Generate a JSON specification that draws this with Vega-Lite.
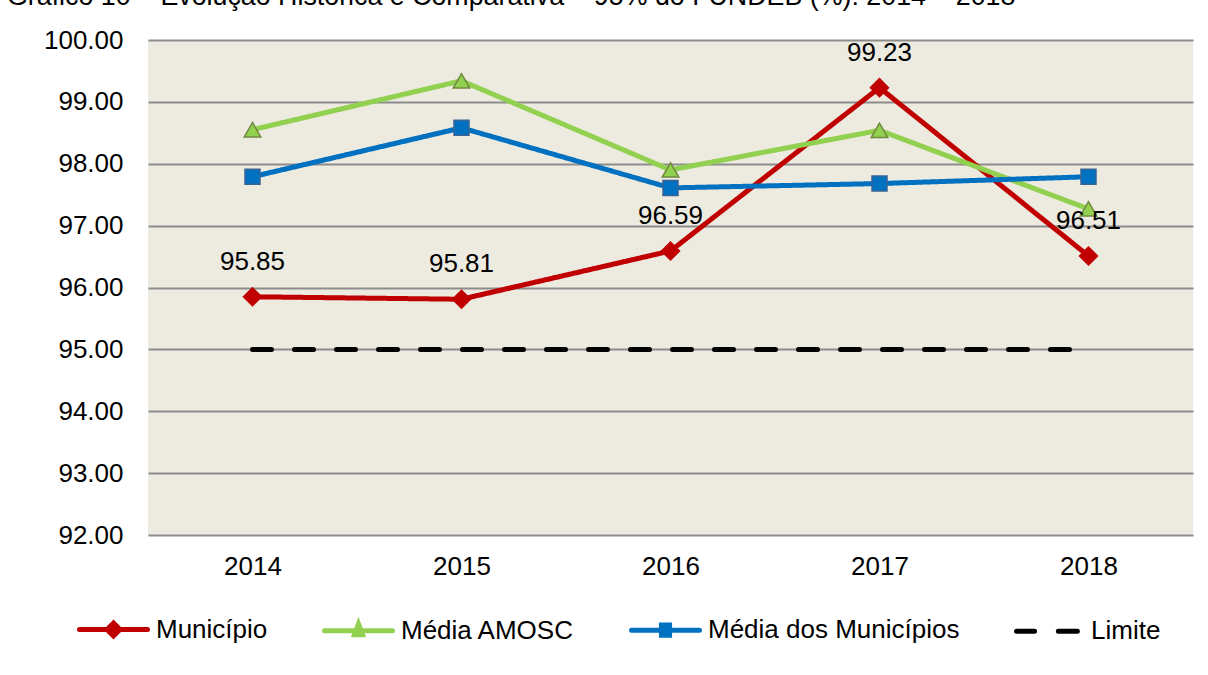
{
  "$schema": "https://vega.github.io/schema/vega-lite/v6.json",
  "width": 1045,
  "height": 495,
  "autosize": {"type": "none"},
  "padding": {"left": 148, "top": 40, "right": 15, "bottom": 140},
  "background": "white",
  "title": {
    "text": "Gráfico 10 – Evolução Histórica e Comparativa – 95% do FUNDEB (%): 2014 – 2018",
    "anchor": "start",
    "frame": "group",
    "dx": -141,
    "dy": 15,
    "offset": 10,
    "baseline": "alphabetic",
    "fontSize": 26.8,
    "font": "Liberation Sans",
    "fontWeight": "normal",
    "color": "black"
  },
  "config": {
    "view": {"fill": "#EDEAE0", "stroke": null},
    "font": "Liberation Sans"
  },
  "data": {
    "values": [
      {"ano": "2014", "serie": "Município", "valor": 95.85},
      {"ano": "2015", "serie": "Município", "valor": 95.81},
      {"ano": "2016", "serie": "Município", "valor": 96.59},
      {"ano": "2017", "serie": "Município", "valor": 99.23},
      {"ano": "2018", "serie": "Município", "valor": 96.51},
      {"ano": "2014", "serie": "Média AMOSC", "valor": 98.55},
      {"ano": "2015", "serie": "Média AMOSC", "valor": 99.34},
      {"ano": "2016", "serie": "Média AMOSC", "valor": 97.9},
      {"ano": "2017", "serie": "Média AMOSC", "valor": 98.54},
      {"ano": "2018", "serie": "Média AMOSC", "valor": 97.27},
      {"ano": "2014", "serie": "Média dos Municípios", "valor": 97.79},
      {"ano": "2015", "serie": "Média dos Municípios", "valor": 98.58},
      {"ano": "2016", "serie": "Média dos Municípios", "valor": 97.61},
      {"ano": "2017", "serie": "Média dos Municípios", "valor": 97.68},
      {"ano": "2018", "serie": "Média dos Municípios", "valor": 97.79},
      {"ano": "2014", "serie": "Limite", "valor": 95},
      {"ano": "2015", "serie": "Limite", "valor": 95},
      {"ano": "2016", "serie": "Limite", "valor": 95},
      {"ano": "2017", "serie": "Limite", "valor": 95},
      {"ano": "2018", "serie": "Limite", "valor": 95}
    ]
  },
  "encoding": {
    "x": {
      "field": "ano",
      "type": "ordinal",
      "sort": null,
      "scale": {"type": "point", "padding": 0.5},
      "axis": {
        "title": null,
        "labelAngle": 0,
        "labelFontSize": 26,
        "labelColor": "black",
        "labelFont": "Liberation Sans",
        "ticks": false,
        "domain": false,
        "grid": false,
        "labelPadding": 18
      }
    },
    "y": {
      "field": "valor",
      "type": "quantitative",
      "scale": {"domain": [92, 100], "zero": false, "nice": false},
      "axis": {
        "title": null,
        "values": [92, 93, 94, 95, 96, 97, 98, 99, 100],
        "format": ".2f",
        "labelFontSize": 26,
        "labelColor": "black",
        "labelFont": "Liberation Sans",
        "labelPadding": 25,
        "ticks": false,
        "domain": false,
        "gridColor": "#8C8C8C",
        "gridWidth": 2
      }
    }
  },
  "layer": [
    {
      "mark": {"type": "line", "strokeCap": "round", "strokeJoin": "round"},
      "encoding": {
        "color": {
          "field": "serie",
          "type": "nominal",
          "sort": null,
          "scale": {
            "domain": ["Município", "Média AMOSC", "Média dos Municípios", "Limite"],
            "range": ["#C00000", "#92D050", "#0070C0", "#000000"]
          },
          "legend": {
            "orient": "none",
            "legendX": -71,
            "legendY": 553,
            "direction": "horizontal",
            "title": null,
            "labelFontSize": 26,
            "labelColor": "black",
            "labelFont": "Liberation Sans",
            "labelLimit": 500,
            "symbolSize": 4624,
            "symbolStrokeWidth": 5,
            "labelOffset": 6,
            "columnPadding": 46,
            "padding": 0,
            "encode": {
              "symbols": {
                "update": {
                  "shape": {"signal": "datum.value === 'Município' ? 'M-1,0H1M0,-0.19L0.19,0L0,0.19L-0.19,0Z' : datum.value === 'Média AMOSC' ? 'M-1,0H1M0,-0.2L0.12,0.12L-0.12,0.12Z' : datum.value === 'Média dos Municípios' ? 'M-1,0H1M-0.12,-0.15H0.12V0.15H-0.12Z' : 'M-0.94,0H-0.41M0.29,0H0.85'"},
                  "fill": {"signal": "datum.value === 'Município' ? '#C00000' : datum.value === 'Média AMOSC' ? '#92D050' : datum.value === 'Média dos Municípios' ? '#0070C0' : '#000000'"},
                  "stroke": {"signal": "datum.value === 'Município' ? '#C00000' : datum.value === 'Média AMOSC' ? '#92D050' : datum.value === 'Média dos Municípios' ? '#0070C0' : '#000000'"},
                  "strokeDash": {"value": [1, 0]},
                  "strokeCap": {"value": "round"},
                  "opacity": {"value": 1}
                }
              }
            }
          }
        },
        "strokeDash": {
          "field": "serie",
          "type": "nominal",
          "scale": {
            "domain": ["Município", "Média AMOSC", "Média dos Municípios", "Limite"],
            "range": [[1, 0], [1, 0], [1, 0], [19, 23]]
          },
          "legend": null
        },
        "strokeWidth": {
          "field": "serie",
          "type": "nominal",
          "scale": {
            "domain": ["Município", "Média AMOSC", "Média dos Municípios", "Limite"],
            "range": [5, 5, 5, 4]
          },
          "legend": null
        }
      }
    },
    {
      "transform": [{"filter": "datum.serie !== 'Limite'"}],
      "mark": {"type": "point", "filled": true, "opacity": 1, "strokeWidth": 1.5},
      "encoding": {
        "shape": {
          "field": "serie",
          "type": "nominal",
          "scale": {
            "domain": ["Município", "Média AMOSC", "Média dos Municípios"],
            "range": ["diamond", "triangle-up", "square"]
          },
          "legend": null
        },
        "size": {
          "field": "serie",
          "type": "nominal",
          "scale": {
            "domain": ["Município", "Média AMOSC", "Média dos Municípios"],
            "range": [324, 225, 180]
          },
          "legend": null
        },
        "fill": {
          "field": "serie",
          "type": "nominal",
          "scale": {
            "domain": ["Município", "Média AMOSC", "Média dos Municípios"],
            "range": ["#C00000", "#92D050", "#0070C0"]
          },
          "legend": null
        },
        "stroke": {
          "field": "serie",
          "type": "nominal",
          "scale": {
            "domain": ["Município", "Média AMOSC", "Média dos Municípios"],
            "range": ["#C00000", "#71893F", "#3A6496"]
          },
          "legend": null
        }
      }
    },
    {
      "transform": [{"filter": "datum.serie === 'Município'"}],
      "mark": {"type": "text", "dy": -35, "fontSize": 26, "font": "Liberation Sans", "color": "black"},
      "encoding": {
        "text": {"field": "valor", "type": "quantitative", "format": ".2f"}
      }
    }
  ]
}
